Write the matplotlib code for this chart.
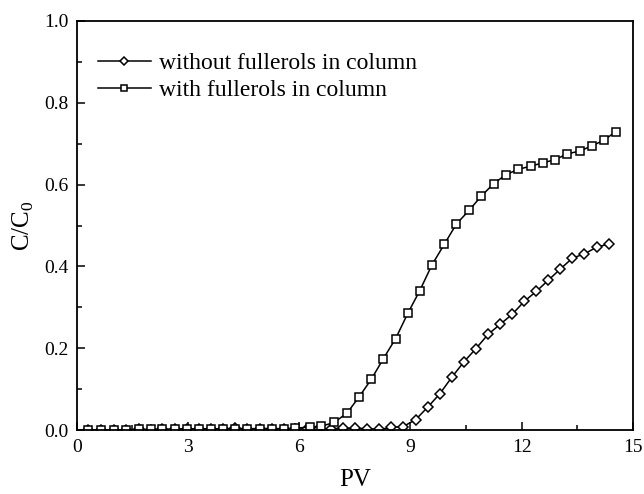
import matplotlib
matplotlib.use("Agg")
import matplotlib.pyplot as plt
from matplotlib.ticker import MultipleLocator

plt.rcParams['font.family'] = ['Liberation Serif', 'DejaVu Serif']
plt.rcParams['mathtext.fontset'] = 'custom'
plt.rcParams['mathtext.rm'] = 'Liberation Serif'

pv_without = [0.31, 0.66, 1.01, 1.34, 1.67, 2.00, 2.30, 2.64, 2.98, 3.30, 3.62, 3.95,
              4.27, 4.60, 4.94, 5.26, 5.58, 5.90, 6.21, 6.53, 6.87, 7.18, 7.50, 7.83,
              8.16, 8.48, 8.80, 9.14, 9.47, 9.79, 10.11, 10.44, 10.76, 11.09, 11.42, 11.74,
              12.07, 12.39, 12.71, 13.03, 13.36, 13.69, 14.02, 14.35]
c_without = [0.001, 0.001, 0.001, 0.001, 0.002, 0.001, 0.002, 0.002, 0.003, 0.003, 0.004, 0.003,
             0.005, 0.003, 0.004, 0.004, 0.003, 0.004, 0.002, 0.002, 0.004, 0.005, 0.005, 0.004,
             0.002, 0.007, 0.009, 0.026, 0.057, 0.089, 0.129, 0.167, 0.199, 0.234, 0.259, 0.283,
             0.315, 0.339, 0.366, 0.393, 0.420, 0.431, 0.447, 0.455]

pv_with = [0.31, 0.66, 1.01, 1.34, 1.67, 2.00, 2.30, 2.64, 2.98, 3.30, 3.62, 3.95,
           4.27, 4.60, 4.94, 5.26, 5.58, 5.90, 6.28, 6.60, 6.94, 7.29, 7.61, 7.94,
           8.27, 8.60, 8.93, 9.25, 9.58, 9.91, 10.24, 10.58, 10.91, 11.24, 11.57, 11.90,
           12.24, 12.57, 12.90, 13.23, 13.57, 13.90, 14.21, 14.53]
c_with = [0.001, 0.001, 0.001, 0.001, 0.002, 0.002, 0.002, 0.003, 0.003, 0.004, 0.003, 0.004,
          0.004, 0.004, 0.004, 0.004, 0.004, 0.005, 0.008, 0.010, 0.019, 0.042, 0.081, 0.124,
          0.175, 0.224, 0.286, 0.341, 0.404, 0.454, 0.504, 0.537, 0.572, 0.602, 0.624, 0.637,
          0.645, 0.653, 0.661, 0.675, 0.682, 0.695, 0.708, 0.729]

labels = ["without fullerols in column", "with fullerols in column"]

fig = plt.figure(figsize=(6.44, 4.94), dpi=100)
ax = fig.add_axes([0.119, 0.129, 0.864, 0.829])

ax.plot(pv_without, c_without, color='black', lw=1.1, marker='D', markersize=5.4,
        markerfacecolor='white', markeredgecolor='black', markeredgewidth=1.1, label=labels[0])
ax.plot(pv_with, c_with, color='black', lw=1.1, marker='s', markersize=5.4,
        markerfacecolor='white', markeredgecolor='black', markeredgewidth=1.1, label=labels[1])

ax.set_xlim(0, 15)
ax.set_ylim(0, 1.0)
ax.xaxis.set_major_locator(MultipleLocator(3))
ax.xaxis.set_minor_locator(MultipleLocator(1.5))
ax.yaxis.set_major_locator(MultipleLocator(0.2))
ax.yaxis.set_minor_locator(MultipleLocator(0.1))
ax.yaxis.set_major_formatter(plt.FuncFormatter(lambda v, p: f"{v:.1f}"))
ax.tick_params(which='major', direction='in', length=6, width=1.1, labelsize=14, pad=6)
ax.tick_params(which='minor', direction='in', length=3.5, width=1.1)
for s in ax.spines.values():
    s.set_linewidth(1.3)

ax.set_xlabel("PV", fontsize=18, labelpad=10)
ax.set_ylabel(r"C/C$_0$", fontsize=18, labelpad=6)

leg = ax.legend(loc='upper left', frameon=False, fontsize=17, handlelength=2.25,
                bbox_to_anchor=(0.0, 0.975), markerscale=0.75, handletextpad=0.33,
                labelspacing=0.25)

fig.savefig("out.png", dpi=100)
